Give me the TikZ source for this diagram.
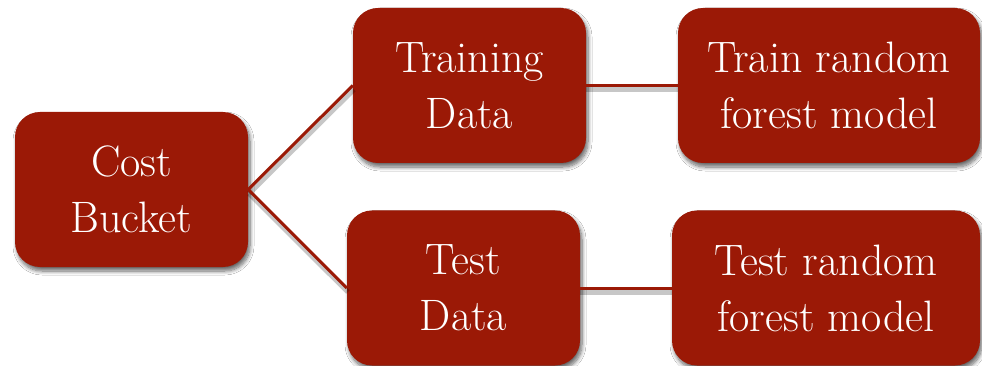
\documentclass[tikz,border=0pt]{standalone}
\usetikzlibrary{shadows.blur}
\definecolor{boxred}{RGB}{155,25,6}
\begin{document}
\begin{tikzpicture}[x=1pt,y=-1pt,
  stepbox/.style={fill=boxred, draw=none, rounded corners=25pt,
    text=white, align=center, inner sep=0pt,
    font=\fontsize{44}{56}\selectfont,
    % a tall invisible strut on the first line sets the text a little low
    execute at begin node={\rule{0pt}{38pt}},
    blur shadow={shadow xshift=2pt, shadow yshift=-4pt,
      shadow blur radius=4pt, shadow blur steps=8, shadow opacity=60}},
  link/.style={draw=boxred, line width=3pt},
  linkshade/.style={draw=black, opacity=0.22, line width=5pt}]
  \useasboundingbox[fill=white] (0,0) rectangle (982,366);

  % boxes, given by their centres and sizes in points
  \node[stepbox, minimum width=233pt, minimum height=155pt] (cost) at (131.5,189.5) {Cost\\Bucket};
  \node[stepbox, minimum width=233pt, minimum height=155pt] (train) at (469.5,85.5) {Training\\Data};
  \node[stepbox, minimum width=233pt, minimum height=155pt] (test) at (463.5,288) {Test\\Data};
  \node[stepbox, minimum width=302pt, minimum height=155pt] (trainrf) at (829,85.5) {Train random\\forest model};
  \node[stepbox, minimum width=308pt, minimum height=155pt] (testrf) at (826,288) {Test random\\forest model};

  % connectors, with a soft shade beneath each
  \draw[linkshade] ([shift={(1,4)}]cost.east) -- ([shift={(1,4)}]train.west);
  \draw[linkshade] ([shift={(1,4)}]cost.east) -- ([shift={(1,4)}]test.west);
  \draw[linkshade] ([shift={(0,4)}]train.east) -- ([shift={(0,4)}]trainrf.west);
  \draw[linkshade] ([shift={(0,4)}]test.east) -- ([shift={(0,4)}]testrf.west);
  \draw[link] (cost.east) -- (train.west);
  \draw[link] (cost.east) -- (test.west);
  \draw[link] (train.east) -- (trainrf.west);
  \draw[link] (test.east) -- (testrf.west);
\end{tikzpicture}
\end{document}
